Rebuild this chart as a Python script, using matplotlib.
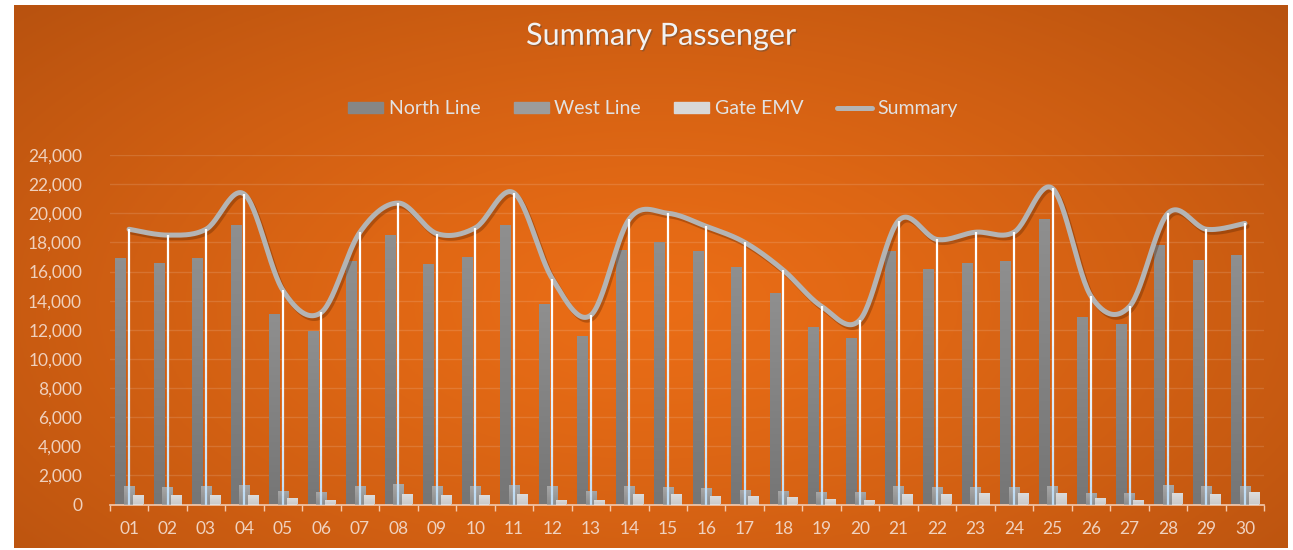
import numpy as np
import matplotlib.pyplot as plt
import matplotlib.patheffects as pe
from matplotlib.collections import LineCollection
from matplotlib.lines import Line2D
from matplotlib.patches import Patch
from matplotlib.ticker import FuncFormatter, FixedLocator

plt.rcParams['font.family'] = ['Lato', 'DejaVu Sans']

# ---- data ----
days = ['%02d' % d for d in range(1, 31)]
north_line = [16900, 16600, 16900, 19200, 13100, 11900, 16700, 18500, 16500, 17000,
              19200, 13800, 11600, 17500, 18000, 17400, 16300, 14500, 12200, 11400,
              17400, 16200, 16600, 16700, 19600, 12900, 12400, 17800, 16800, 17100]
west_line = [1250, 1170, 1250, 1320, 960, 890, 1250, 1390, 1250, 1250,
             1320, 1250, 960, 1250, 1170, 1100, 1030, 960, 890, 890,
             1250, 1170, 1170, 1170, 1250, 820, 820, 1320, 1250, 1250]
gate_emv = [640, 640, 640, 640, 430, 290, 640, 710, 640, 640,
            710, 290, 290, 710, 710, 570, 570, 500, 360, 290,
            710, 710, 780, 780, 780, 430, 290, 780, 710, 850]
summary = [18900, 18500, 18900, 21300, 14700, 13200, 18700, 20700, 18600, 19000,
           21400, 15500, 13000, 19600, 20000, 19100, 18000, 16100, 13600, 12700,
           19500, 18200, 18700, 18700, 21700, 14300, 13600, 20000, 18900, 19300]

W, H = 1293, 550
fig = plt.figure(figsize=(W / 100, H / 100), dpi=100, facecolor='white')

# orange radial background
bg = fig.add_axes([14 / W, 2 / H, (1288 - 14) / W, (545 - 2) / H], zorder=-5)
gx, gy = np.meshgrid(np.linspace(-1, 1, 400), np.linspace(-1, 1, 200))
r = np.clip(np.sqrt((gx / 1.05) ** 2 + ((gy + 0.1) / 1.25) ** 2), 0, 1.3) / 1.3
c_in = np.array([234, 109, 22]) / 255
c_out = np.array([184, 82, 15]) / 255
img = c_in[None, None, :] * (1 - r[..., None] ** 1.3) + c_out[None, None, :] * r[..., None] ** 1.3
bg.imshow(img, aspect='auto', extent=[0, 1, 0, 1], origin='lower')
bg.axis('off')

ax = fig.add_axes([109.8 / W, (H - 504.5) / H, (1264.2 - 109.8) / W, (504.5 - 155) / H])
ax.patch.set_alpha(0)

x = np.arange(len(days))
bw = 0.27


def grad_bars(xs, vals, top, bottom, z):
    # bars with a soft vertical gradient
    bars = ax.bar(xs, vals, bw, color=top, zorder=z)
    grad = np.linspace(0, 1, 64)[:, None, None]
    ct = np.array(plt.matplotlib.colors.to_rgb(top))
    cb = np.array(plt.matplotlib.colors.to_rgb(bottom))
    g = cb * (1 - grad) + ct * grad
    for b in bars:
        x0, y0 = b.get_x(), b.get_y()
        im = ax.imshow(g, aspect='auto', origin='lower', zorder=z,
                       extent=[x0, x0 + b.get_width(), y0, y0 + b.get_height()])
        im.set_clip_path(b)
    return bars


grad_bars(x - 0.22, north_line, '#8f8f8f', '#767676', 2)
grad_bars(x, west_line, '#a8a8a8', '#8e8e8e', 3)
grad_bars(x + 0.23, gate_emv, '#dedede', '#cacaca', 4)

# smoothed summary line (bezier, excel-like), computed in pixel-ish space
sx = 38.48
sy = 14.55 / 1000
px = x * sx
py = np.array(summary) * sy
P = np.column_stack([px, py])
Pe = np.vstack([P[0], P, P[-1]])
curve = []
t = np.linspace(0, 1, 30)[:, None]
for i in range(len(P) - 1):
    p0, p1, p2, p3 = Pe[i], Pe[i + 1], Pe[i + 2], Pe[i + 3]
    c1 = p1 + (p2 - p0) / 6
    c2 = p2 - (p3 - p1) / 6
    seg = ((1 - t) ** 3) * p1 + 3 * ((1 - t) ** 2) * t * c1 + 3 * (1 - t) * t ** 2 * c2 + t ** 3 * p2
    curve.append(seg if i == 0 else seg[1:])
curve = np.vstack(curve)
ax.plot(curve[:, 0] / sx, curve[:, 1] / sy, color='#b4b4b4', lw=3.6, zorder=5,
        solid_capstyle='round',
        path_effects=[pe.SimpleLineShadow(offset=(1.5, -2), alpha=0.35, shadow_color='#5a2400'), pe.Normal()])

# drop lines with white->light blue fade
segs, cols = [], []
n = 24
for xi, yi in zip(x, summary):
    ys = np.linspace(yi, 0, n + 1)
    for k in range(n):
        segs.append([(xi, ys[k]), (xi, ys[k + 1])])
        f = (k / n) ** 1.5
        cols.append((1 - 0.27 * f, 1 - 0.15 * f, 1 - 0.05 * f))
ax.add_collection(LineCollection(segs, colors=cols, linewidths=1.6, zorder=6))

ax.set_xlim(-0.5, len(days) - 0.5)
ax.set_ylim(0, 24000)
ax.set_yticks(np.arange(0, 24001, 2000))
ax.yaxis.set_major_formatter(FuncFormatter(lambda v, p: f'{v:,.0f}'))
ax.set_xticks(x)
ax.set_xticklabels(days)
ax.xaxis.set_minor_locator(FixedLocator(np.arange(-0.5, len(days), 1)))
ax.tick_params(axis='x', which='major', length=0, pad=12, labelsize=12.5, colors='#f0d2bf')
ax.tick_params(axis='x', which='minor', length=4, width=1, color='#f3c9ad', direction='out')
ax.tick_params(axis='y', length=0, pad=20, labelsize=12.5, colors='#efd0bd')
ax.grid(axis='y', color='white', alpha=0.13, lw=1, zorder=0)
ax.set_axisbelow(True)
for s in ['left', 'right', 'top']:
    ax.spines[s].set_visible(False)
ax.spines['bottom'].set_color('#f3c9ad')
ax.spines['bottom'].set_linewidth(1.2)

fig.text(0.511, 0.935, 'Summary Passenger', ha='center', va='center', fontsize=22,
         color='#f2f2f2', path_effects=[pe.withSimplePatchShadow(offset=(1, -1), alpha=0.4)])

handles = [Patch(color='#868686'), Patch(color='#9c9c9c'), Patch(color='#d8d8d8'),
           Line2D([0], [0], color='#b4b4b4', lw=3.6, solid_capstyle='round')]
leg = fig.legend(handles, ['North Line', 'West Line', 'Gate EMV', 'Summary'],
                 loc='center', bbox_to_anchor=(0.505, 0.802), ncol=4, frameon=False,
                 fontsize=14, handlelength=1.8, handleheight=0.55, handletextpad=0.3,
                 columnspacing=1.7)
for tx in leg.get_texts():
    tx.set_color('#e2e2e2')

fig.savefig('out.png', dpi=100, facecolor='white')
